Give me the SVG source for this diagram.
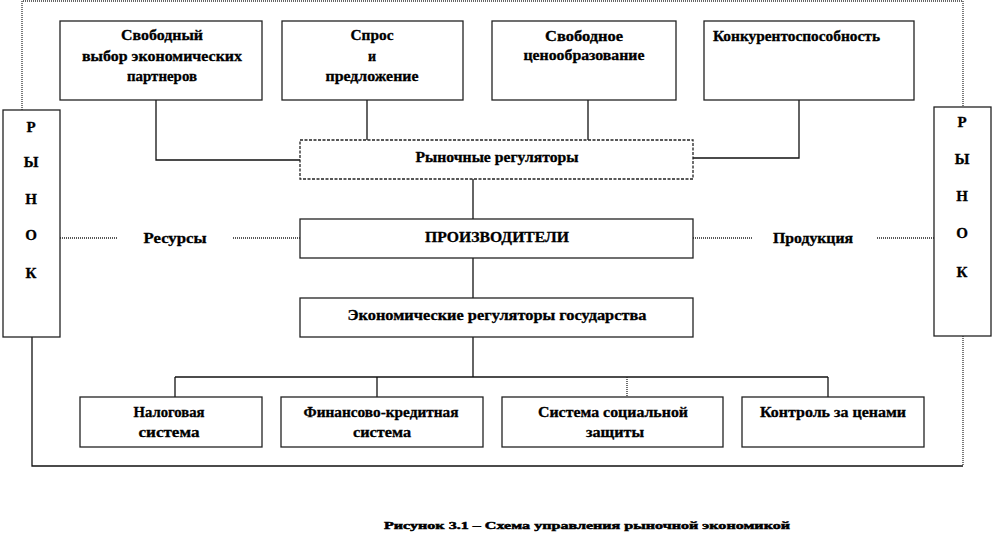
<svg xmlns="http://www.w3.org/2000/svg" width="995" height="551" viewBox="0 0 995 551">
<style>
  .box { fill: #fff; stroke: #222; stroke-width: 1.3; }
  .dash { stroke-dasharray: 3 1.5; }
  .frame { fill: none; stroke: #333; stroke-width: 1.3; stroke-dasharray: 1 1; }
  .ln { fill: none; stroke: #111; stroke-width: 1.3; }
  .dot { fill: none; stroke: #222; stroke-width: 1.3; stroke-dasharray: 1 1; }
  .t { font-family: 'Liberation Serif', 'Times New Roman', serif; font-weight: 700; font-size: 14px; fill: #000; stroke: #000; stroke-width: 0.3; }
  .c { text-anchor: middle; }
  .big { font-size: 15px; }
  .cap { font-size: 11px; stroke-width: 0.5; }
</style>
<rect width="995" height="551" fill="#fff"/>

<g id="connectors">
  <polyline class="frame" points="22,110 22,1 963,1 963,107"/>
  <polyline class="ln" points="32,337 32,466 963,466"/>
  <line class="frame" x1="963" y1="336" x2="963" y2="466"/>
  <polyline class="ln" points="156,100 156,160 300,160"/>
  <line class="ln" x1="367" y1="100" x2="367" y2="140"/>
  <line class="ln" x1="588" y1="100" x2="588" y2="140"/>
  <polyline class="ln" points="799,100 799,158 693,158"/>
  <line class="ln" x1="473" y1="179" x2="473" y2="219"/>
  <line class="ln" x1="473" y1="258" x2="473" y2="298"/>
  <line class="ln" x1="473" y1="337" x2="473" y2="377"/>
  <line class="ln" x1="175" y1="377" x2="828" y2="377"/>
  <line class="ln" x1="175" y1="377" x2="175" y2="397"/>
  <line class="ln" x1="377" y1="377" x2="377" y2="397"/>
  <line class="dot" x1="627" y1="377" x2="627" y2="397"/>
  <line class="ln" x1="828" y1="377" x2="828" y2="397"/>
  <line class="dot" x1="60" y1="238" x2="118" y2="238"/>
  <line class="dot" x1="233" y1="238" x2="300" y2="238"/>
  <line class="dot" x1="693" y1="238" x2="752" y2="238"/>
  <line class="dot" x1="877" y1="238" x2="934" y2="238"/>
  <text id="lbl-res" class="t c" x="175" y="243" textLength="63" lengthAdjust="spacingAndGlyphs">Ресурсы</text>
  <text id="lbl-prod" class="t c" x="813" y="243" textLength="80" lengthAdjust="spacingAndGlyphs">Продукция</text>
</g>

<g id="market-left">
  <rect class="box" x="3" y="110" width="57" height="227"/>
  <text class="t c big" x="31" y="132">Р</text>
  <text class="t c big" x="31" y="167">Ы</text>
  <text class="t c big" x="31" y="204">Н</text>
  <text class="t c big" x="31" y="240">О</text>
  <text class="t c big" x="31" y="278">К</text>
</g>

<g id="market-right">
  <rect class="box" x="934" y="107" width="57" height="229"/>
  <text class="t c big" x="962" y="127">Р</text>
  <text class="t c big" x="962" y="164">Ы</text>
  <text class="t c big" x="962" y="201">Н</text>
  <text class="t c big" x="962" y="238">О</text>
  <text class="t c big" x="962" y="277">К</text>
</g>

<g id="top-free-choice">
  <rect class="box" x="60" y="21" width="202" height="79"/>
  <text class="t c" x="162" y="40" textLength="82" lengthAdjust="spacingAndGlyphs">Свободный</text>
  <text class="t c" x="162" y="61" textLength="160" lengthAdjust="spacingAndGlyphs">выбор экономических</text>
  <text class="t c" x="162" y="81" textLength="70" lengthAdjust="spacingAndGlyphs">партнеров</text>
</g>

<g id="top-supply-demand">
  <rect class="box" x="282" y="21" width="181" height="79"/>
  <text class="t c" x="372" y="40" textLength="43" lengthAdjust="spacingAndGlyphs">Спрос</text>
  <text class="t c" x="372" y="61">и</text>
  <text class="t c" x="372" y="81" textLength="93" lengthAdjust="spacingAndGlyphs">предложение</text>
</g>

<g id="top-free-pricing">
  <rect class="box" x="492" y="21" width="184" height="79"/>
  <text class="t c" x="584" y="41" textLength="78" lengthAdjust="spacingAndGlyphs">Свободное</text>
  <text class="t c" x="584" y="60" textLength="121" lengthAdjust="spacingAndGlyphs">ценообразование</text>
</g>

<g id="top-competitiveness">
  <rect class="box" x="704" y="21" width="210" height="79"/>
  <text class="t" x="713" y="41" textLength="167" lengthAdjust="spacingAndGlyphs">Конкурентоспособность</text>
</g>

<g id="market-regulators">
  <rect class="box dash" x="300" y="140" width="393" height="39"/>
  <text class="t c" x="497" y="162" textLength="163" lengthAdjust="spacingAndGlyphs">Рыночные  регуляторы</text>
</g>

<g id="producers">
  <rect class="box" x="300" y="219" width="393" height="39"/>
  <text class="t c" x="497" y="242" textLength="144" lengthAdjust="spacingAndGlyphs">ПРОИЗВОДИТЕЛИ</text>
</g>

<g id="state-regulators">
  <rect class="box" x="300" y="298" width="393" height="39"/>
  <text class="t c" x="497" y="320" textLength="299" lengthAdjust="spacingAndGlyphs">Экономические  регуляторы  государства</text>
</g>

<g id="tax-system">
  <rect class="box" x="80" y="397" width="182" height="50"/>
  <text class="t c" x="169" y="417" textLength="71" lengthAdjust="spacingAndGlyphs">Налоговая</text>
  <text class="t c" x="169" y="437" textLength="61" lengthAdjust="spacingAndGlyphs">система</text>
</g>

<g id="finance-credit">
  <rect class="box" x="281" y="397" width="202" height="50"/>
  <text class="t c" x="381" y="417" textLength="155" lengthAdjust="spacingAndGlyphs">Финансово-кредитная</text>
  <text class="t c" x="382" y="437" textLength="58" lengthAdjust="spacingAndGlyphs">система</text>
</g>

<g id="social-protection">
  <rect class="box" x="502" y="397" width="221" height="50"/>
  <text class="t c" x="613" y="417" textLength="150" lengthAdjust="spacingAndGlyphs">Система  социальной</text>
  <text class="t c" x="615" y="437" textLength="58" lengthAdjust="spacingAndGlyphs">защиты</text>
</g>

<g id="price-control">
  <rect class="box" x="742" y="397" width="182" height="50"/>
  <text class="t c" x="833" y="417" textLength="146" lengthAdjust="spacingAndGlyphs">Контроль  за ценами</text>
</g>

<text id="caption" class="t cap" x="384" y="529" textLength="406" lengthAdjust="spacingAndGlyphs">Рисунок 3.1 – Схема управления рыночной экономикой</text>
</svg>
